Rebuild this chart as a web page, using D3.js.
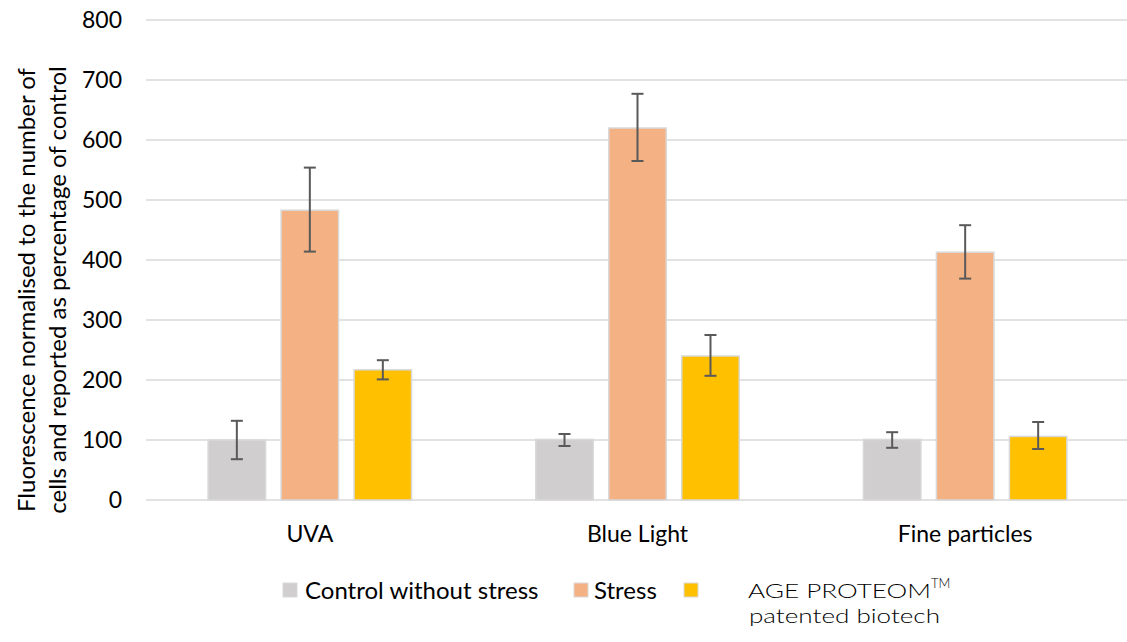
<!DOCTYPE html>
<html>
<head>
<meta charset="utf-8">
<script src="https://cdn.jsdelivr.net/npm/d3@7"></script>
<style>
  html, body { margin: 0; padding: 0; background: #ffffff; }
  svg { display: block; font-family: Lato, "Open Sans", sans-serif; }
</style>
</head>
<body>
<svg id="chart" width="1127" height="642"></svg>
<script>
// ---- data ----
const categories = ["UVA", "Blue Light", "Fine particles"];
const seriesNames = ["Control without stress", "Stress", "AGE PROTEOM"];
const controlValues = [100, 101, 101];
const stressValues = [483, 620, 413];
const proteomValues = [217, 240, 106];
const controlErrLow = [68, 90, 87];
const controlErrHigh = [132, 110, 113];
const stressErrLow = [414, 565, 369];
const stressErrHigh = [554, 677, 458];
const proteomErrLow = [201, 207, 85];
const proteomErrHigh = [233, 275, 130];
const yTicks = [0, 100, 200, 300, 400, 500, 600, 700, 800];
const yTitleLines = ["Fluorescence normalised to the number of", "cells and reported as percentage of control"];
const seriesColors = ["#D0CECE", "#F4B183", "#FFC000"];

const values = [controlValues, stressValues, proteomValues];
const errLow = [controlErrLow, stressErrLow, proteomErrLow];
const errHigh = [controlErrHigh, stressErrHigh, proteomErrHigh];

const rows = [];
categories.forEach((c, ci) => {
  seriesNames.forEach((s, si) => {
    rows.push({ cat: c, series: s, si: si, value: values[si][ci], lo: errLow[si][ci], hi: errHigh[si][ci] });
  });
});

const svg = d3.select("#chart");

const y = d3.scaleLinear().domain([0, 800]).range([500, 20]);
const x0 = d3.scaleBand().domain(categories).range([146, 1129]).padding(0);
const groupFrac = 0.621;
const x1 = d3.scaleBand().domain(seriesNames)
  .range([x0.bandwidth() * (1 - groupFrac) / 2, x0.bandwidth() * (1 + groupFrac) / 2])
  .paddingInner(0.2123).paddingOuter(0);

// gridlines
svg.append("g").selectAll("line").data(yTicks).join("line")
  .attr("x1", 146).attr("x2", 1127)
  .attr("y1", d => y(d)).attr("y2", d => y(d))
  .attr("stroke", "#D9D9D9").attr("stroke-width", 1.5);

// y tick labels
svg.append("g").selectAll("text").data(yTicks).join("text")
  .attr("x", 122).attr("y", d => y(d)).attr("dy", "0.35em")
  .attr("text-anchor", "end").attr("font-size", 23).attr("fill", "#000")
  .text(d => d);

// y title
const yt = svg.append("text")
  .attr("transform", "translate(0,290) rotate(-90)")
  .attr("text-anchor", "middle").attr("font-size", 24).attr("fill", "#000");
yTitleLines.forEach((l, i) => {
  yt.append("tspan").attr("x", 0).attr("y", 35 + i * 31).text(l);
});

// bars
const bars = svg.append("g");
bars.selectAll("rect").data(rows).join("rect")
  .attr("x", d => x0(d.cat) + x1(d.series))
  .attr("y", d => y(d.value))
  .attr("width", x1.bandwidth())
  .attr("height", d => y(0) - y(d.value))
  .attr("fill", d => seriesColors[d.si])
  .attr("stroke", "#D9D9D9").attr("stroke-width", 1.5);

// error bars
const eb = svg.append("g").attr("stroke", "#595959").attr("stroke-width", 2);
rows.forEach(d => {
  const cx = x0(d.cat) + x1(d.series) + x1.bandwidth() / 2;
  eb.append("line").attr("x1", cx).attr("x2", cx).attr("y1", y(d.hi)).attr("y2", y(d.lo));
  eb.append("line").attr("x1", cx - 6).attr("x2", cx + 6).attr("y1", y(d.hi)).attr("y2", y(d.hi));
  eb.append("line").attr("x1", cx - 6).attr("x2", cx + 6).attr("y1", y(d.lo)).attr("y2", y(d.lo));
});

// x labels
svg.append("g").selectAll("text").data(categories).join("text")
  .attr("x", d => x0(d) + x0.bandwidth() / 2).attr("y", 542)
  .attr("text-anchor", "middle").attr("font-size", 23).attr("fill", "#000")
  .text(d => d);

// legend
const legend = svg.append("g");
const legSquareX = [283, 574, 684];
seriesNames.forEach((s, i) => {
  legend.append("rect").attr("x", legSquareX[i]).attr("y", 583).attr("width", 14).attr("height", 14)
    .attr("fill", seriesColors[i]).attr("stroke", "#D9D9D9").attr("stroke-width", 1);
});
legend.append("text").attr("x", 305).attr("y", 599).attr("font-size", 24).text(seriesNames[0]);
legend.append("text").attr("x", 594).attr("y", 599).attr("font-size", 24).text(seriesNames[1]);
const t3 = legend.append("text").attr("font-size", 20).attr("font-weight", 300);
t3.append("tspan").attr("x", 748).attr("y", 598)
  .attr("textLength", 183).attr("lengthAdjust", "spacingAndGlyphs").text(seriesNames[2]);
t3.append("tspan").attr("x", 931).attr("y", 588).attr("font-size", 13).text("TM");
legend.append("text").attr("font-size", 20).attr("font-weight", 300)
  .attr("x", 749).attr("y", 623)
  .attr("textLength", 191).attr("lengthAdjust", "spacingAndGlyphs").text("patented biotech");
</script>
</body>
</html>
